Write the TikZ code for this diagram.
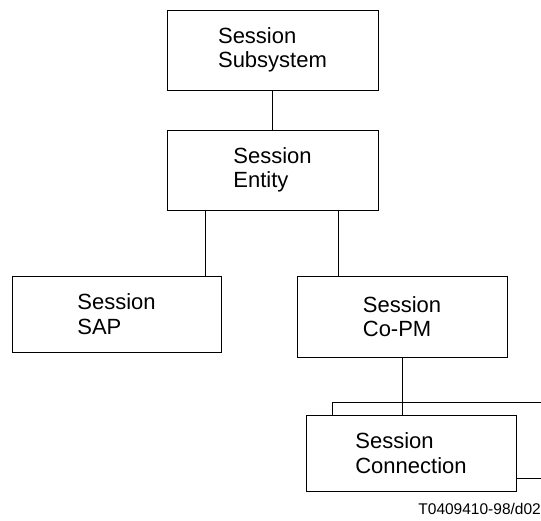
\documentclass[tikz,border=0pt]{standalone}
\usepackage{fontspec}
\setmainfont{Liberation Sans}
\usetikzlibrary{calc}
\tikzset{unitbox/.style={draw, line width=1pt, fill=white, rectangle, align=left, inner sep=0pt, minimum width=210pt, minimum height=78pt, font=\fontsize{22}{24.5}\selectfont}}

\begin{document}
\begin{tikzpicture}[x=1pt, y=-1pt]
			%%%%% START %%%%%
			\useasboundingbox (0, 0) rectangle (541, 520);
			
			\node[unitbox, minimum width=211pt, minimum height=80pt] (sub) at (272.5, 50) {Session\\Subsystem};
			\node[unitbox, minimum width=211pt, minimum height=80pt] (ent) at (272.5, 170) {Session\\Entity};
			
			\node[unitbox, minimum width=209pt, minimum height=76pt] (sap) at (116.5, 314) {Session\\SAP};
			\node[unitbox, minimum height=81pt] (copm) at (402, 316.5) {Session\\Co-PM};
			
			\node[unitbox, minimum height=76pt] (connback) at (437, 440) {};
			\node[unitbox, minimum height=76pt] (conn) at (411, 453) {Session\\Connection};
			
			\coordinate (entL) at ($(ent.south west)+(39, 0)$);
			\coordinate (entR) at ($(ent.south east)+(-40, 0)$);
			\coordinate (copmD) at ($(copm.south)+(0, 0)$);
			
			\draw[line width=1pt] (sub.south) -- (ent.north);
			\draw[line width=1pt] (entL) -- (entL |- sap.north);
			\draw[line width=1pt] (entR) -- (entR |- copm.north);
			\draw[line width=1pt] (copmD) -- (copmD |- conn.north);
			
			\node[anchor=base east, inner sep=0pt, font=\fontsize{15.5}{18}\selectfont] (fig) at (541, 514) {T0409410-98/d02};
			
			%%%%% END %%%%%
		\end{tikzpicture}
\end{document}
